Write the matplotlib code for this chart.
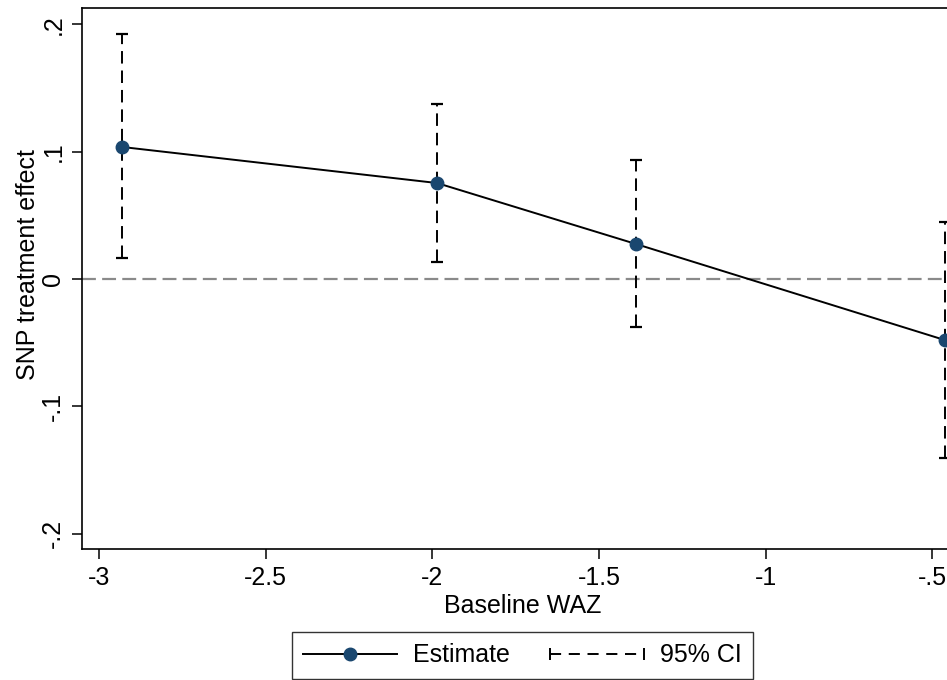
import matplotlib
matplotlib.use("Agg")
import matplotlib.pyplot as plt
from matplotlib.lines import Line2D
from matplotlib.legend_handler import HandlerLine2D

plt.rcParams['font.family'] = ['Liberation Sans', 'DejaVu Sans']
plt.rcParams['lines.scale_dashes'] = False

# values
waz = [-2.93, -1.986, -1.389, -0.462]
est = [0.1037, 0.0754, 0.0275, -0.048]
ci_lo = [0.0165, 0.0134, -0.0377, -0.1404]
ci_hi = [0.1925, 0.1375, 0.0935, 0.0450]
xticks = [-3, -2.5, -2, -1.5, -1, -0.5]
xlabels = ['-3', '-2.5', '-2', '-1.5', '-1', '-.5']
yticks = [-0.2, -0.1, 0, 0.1, 0.2]
ylabels = ['-.2', '-.1', '0', '.1', '.2']

navy = '#1a476f'
fs = 18

fig = plt.figure(figsize=(9.47, 6.8), dpi=100)
ax = fig.add_axes([82/947, 1-549/680, (963-82)/947, (549-8)/680])

ax.axhline(0, color='#8a8a8a', lw=1.6, ls=(0, (10, 4.5)), zorder=1)

# CI dashed bars with caps
for x, lo, hi in zip(waz, ci_lo, ci_hi):
    ax.plot([x, x], [lo, hi], color='black', lw=1.4, ls=(0, (9, 5)), zorder=2)
    ax.plot([x, x], [lo, hi], ls='none', marker='_', ms=8, mew=1.6,
            color='black', zorder=2)

ax.plot(waz, est, color='black', lw=1.4, zorder=3)
ax.plot(waz, est, ls='none', marker='o', ms=9, color=navy, zorder=4)

ax.set_xlim(-3.051, -0.408)
ax.set_ylim(-0.2121, 0.2129)
ax.set_xticks(xticks)
ax.set_xticklabels(xlabels, fontsize=fs)
ax.set_yticks(yticks)
ax.set_yticklabels(ylabels, fontsize=fs, rotation=90, va='center')
ax.tick_params(axis='both', length=7, width=1.1, color='black')
ax.tick_params(axis='x', pad=5)
ax.tick_params(axis='y', pad=5)
for s in ax.spines.values():
    s.set_linewidth(1.2)

ax.set_xlabel('Baseline WAZ', fontsize=fs, labelpad=3)
ax.set_ylabel('SNP treatment effect', fontsize=fs)
ax.yaxis.set_label_coords(-0.048, 0.526)

h_est = Line2D([], [], color='black', lw=1.4, marker='o', ms=9,
               markerfacecolor=navy, markeredgecolor=navy)
h_ci = Line2D([], [], color='black', lw=1.4, ls=(0, (8, 5.5)), marker='|',
              ms=8, mew=1.4)
leg = fig.legend([h_est, h_ci], ['Estimate', '95% CI'], loc='center',
                 bbox_to_anchor=(522.5/947, 1-655.5/680), ncol=2,
                 fontsize=fs, frameon=True, fancybox=False,
                 handlelength=3.75, handletextpad=0.64, columnspacing=1.62,
                 borderpad=0.45,
                 handler_map={h_ci: HandlerLine2D(numpoints=2, marker_pad=0)})
leg.get_frame().set_edgecolor('black')
leg.get_frame().set_linewidth(1.0)

fig.savefig('out.png', dpi=100)
